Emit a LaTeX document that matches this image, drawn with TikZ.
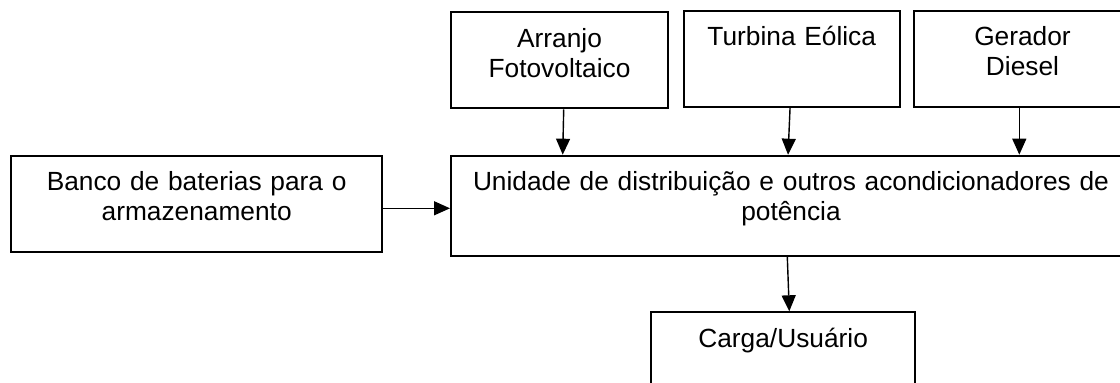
\documentclass[tikz,border=0pt]{standalone}
\usepackage{fontspec}
\setmainfont{Liberation Sans}
\usetikzlibrary{arrows.meta}
\begin{document}
\begin{tikzpicture}[x=0.5pt,y=-0.5pt,
	caixa/.style 2 args={draw=black, line width=1pt, inner sep=0pt, align=center,
		font=\fontsize{13.15pt}{15pt}\selectfont, text height=17.5pt,
		minimum width=#1, text width=#1, text depth=#2},
	seta/.style={black, line width=0.7pt, -{Triangle[length=8pt,width=7pt]}}]
			\clip (0,0) rectangle (1120,383);
			\node [caixa={108.5pt}{30.5pt}] (pv) at (559.5,60.5) {Arranjo\\Fotovoltaico};
			\node [caixa={108.25pt}{30.65pt}] (eolica) at (791.75,58.85) {Turbina E\'olica};
			\node [caixa={108.5pt}{30.65pt}] (diesel) at (1022.5,58.85) {Gerador\\Diesel};
			\node [caixa={340pt}{32.5pt}] (unidade) at (791,205.7) {Unidade de distribui\c{c}\~ao e outros acondicionadores de\\pot\^encia};
			\node [caixa={185.65pt}{30.5pt}] (baterias) at (196.65,203.7) {Banco de baterias para o\\armazenamento};
			\node [caixa={132.15pt}{30.5pt}] (carga) at (783.15,360.3) {Carga/Usu\'ario};
			\draw [seta] ([xshift=2.1pt]pv.south) -- ([xshift=1.6pt]pv.south |- unidade.north);
			\draw [seta] ([xshift=-0.85pt]eolica.south) -- ([xshift=-1.85pt]eolica.south |- unidade.north);
			\draw [seta] ([xshift=-1.6pt]diesel.south) -- ([xshift=-1.6pt]diesel.south |- unidade.north);
			\draw [seta] ([yshift=-2.3pt]baterias.east) -- ([yshift=-2.3pt]baterias.east -| unidade.west);
			\draw [seta] ([xshift=-1.85pt]unidade.south) -- ([xshift=-0.85pt]unidade.south |- carga.north);
		\end{tikzpicture}
\end{document}
